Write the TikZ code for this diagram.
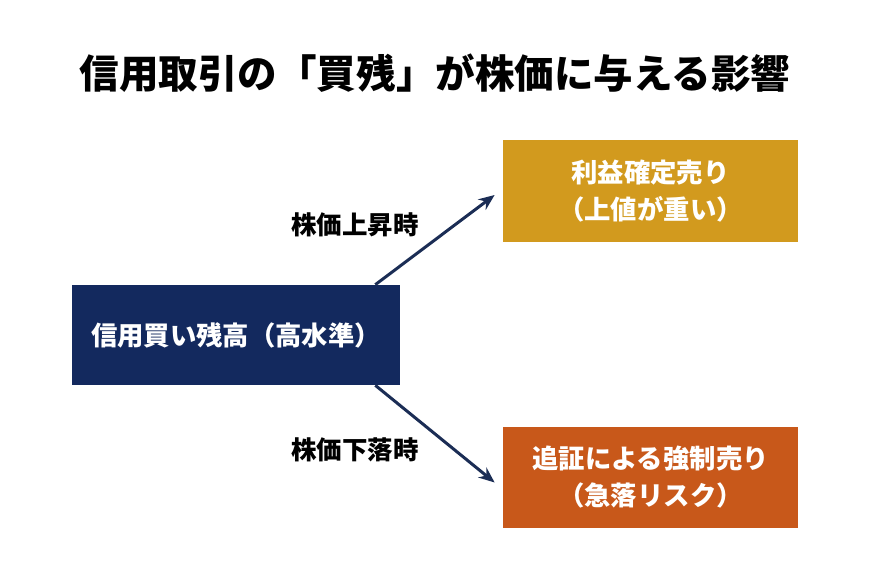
\documentclass[tikz,border=0pt]{standalone}
\usepackage{fontspec}
\setmainfont{Noto Sans CJK JP}
\usetikzlibrary{positioning,calc,arrows.meta}
\definecolor{navy}{HTML}{13295E}
\definecolor{gold}{HTML}{D29A1E}
\definecolor{rust}{HTML}{C8581A}
\definecolor{arrowblue}{HTML}{1B2D55}

\begin{document}
\begin{tikzpicture}
	\tikzset{box/.style={minimum width=5.9cm, minimum height=2.03cm, text=white, font=\fontsize{15pt}{21pt}\selectfont\bfseries, align=center},
		lbl/.style={font=\fontsize{14.5pt}{17pt}\selectfont\bfseries},
		link/.style={-{Stealth[length=3.2mm,width=2.6mm]}, line width=0.6mm, draw=arrowblue}}
	\useasboundingbox (0,0) rectangle (17.4,11.66);
	\node (title) at (8.7,10.2) {\fontsize{22.5pt}{26pt}\selectfont\bfseries 信用取引の「買残」が株価に与える影響};
	\node[box, fill=navy, minimum width=6.56cm, minimum height=2cm] (cred) at (4.72,4.96) {信用買い残高（高水準）};
	\node[box, fill=gold] (prof) at (13.01,7.84) {利益確定売り\\（上値が重い）};
	\node[box, fill=rust] (call) at (13.01,2.11) {追証による強制売り\\（急落リスク）};
	\coordinate (up) at ($(cred.north east)+(-0.5,0)$);
	\coordinate (dn) at ($(cred.south east)+(-0.5,0)$);
	\draw[link] (up) -- ($(prof.west)+(-0.16,-0.08)$);
	\draw[link] (dn) -- ($(call.west)+(-0.16,-0.1)$);
	\node[lbl] (rise) at (7.1,7.16) {株価上昇時};
	\node[lbl] (fall) at (7.1,2.66) {株価下落時};
\end{tikzpicture}
\end{document}
